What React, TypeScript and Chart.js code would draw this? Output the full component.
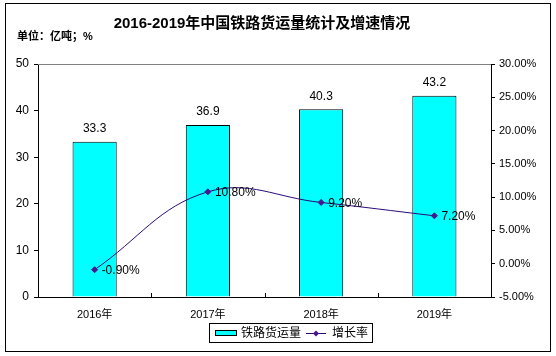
import React, { useEffect, useRef } from "react";
import { Chart, registerables } from "chart.js";

Chart.register(...registerables);

const categories = ["2016年", "2017年", "2018年", "2019年"];
const freightVolume = [33.3, 36.9, 40.3, 43.2];
const growthRate = [-0.9, 10.8, 9.2, 7.2];
const leftTicks = [0, 10, 20, 30, 40, 50];
const rightTicks = [-5, 0, 5, 10, 15, 20, 25, 30];
const titleText = "2016-2019年中国铁路货运量统计及增速情况";
const unitText = "单位：亿吨；%";
const barLabel = "铁路货运量";
const lineLabel = "增长率";

const FONT = '"Liberation Sans", "Noto Sans CJK SC", Arial, sans-serif';
const LINE_COLOR = "#2a0a78";
const POINT_COLOR = "#4b1590";

const decorPlugin = {
  id: "decor",
  beforeDraw(chart: any) {
    const ctx = chart.ctx;
    ctx.save();
    ctx.fillStyle = "#ffffff";
    ctx.fillRect(0, 0, chart.width, chart.height);
    ctx.restore();
  },
  afterDraw(chart: any) {
    const ctx = chart.ctx;
    const area = chart.chartArea;
    ctx.save();
    // outer frame
    ctx.strokeStyle = "#000";
    ctx.lineWidth = 1;
    ctx.strokeRect(5.5, 3.5, 545, 348);
    // plot top border (gray)
    ctx.strokeStyle = "#808080";
    ctx.beginPath();
    ctx.moveTo(area.left, Math.round(area.top) + 0.5);
    ctx.lineTo(area.right, Math.round(area.top) + 0.5);
    ctx.stroke();
    // x category boundary ticks (inward)
    ctx.strokeStyle = "#000";
    const n = categories.length;
    const w = (area.right - area.left) / n;
    ctx.beginPath();
    for (let i = 1; i < n; i++) {
      const x = Math.round(area.left + i * w) + 0.5;
      ctx.moveTo(x, area.bottom);
      ctx.lineTo(x, area.bottom - 4);
    }
    ctx.stroke();
    // title
    ctx.fillStyle = "#000";
    ctx.textAlign = "center";
    ctx.textBaseline = "middle";
    ctx.font = `bold 15px ${FONT}`;
    ctx.fillText(titleText, 262, 24);
    ctx.textAlign = "left";
    ctx.font = `bold 11px ${FONT}`;
    ctx.fillText(unitText, 17, 37);

    // data labels
    ctx.font = `12px ${FONT}`;
    const barMeta = chart.getDatasetMeta(0);
    barMeta.data.forEach((el: any, i: number) => {
      ctx.textAlign = "center";
      ctx.textBaseline = "bottom";
      ctx.fillText(freightVolume[i].toFixed(1), el.x, el.y - 7);
    });
    const lineMeta = chart.getDatasetMeta(1);
    lineMeta.data.forEach((el: any, i: number) => {
      ctx.textAlign = "left";
      ctx.textBaseline = "middle";
      ctx.fillText(growthRate[i].toFixed(2) + "%", el.x + 7, el.y + 1);
    });

    // legend
    ctx.strokeStyle = "#000";
    ctx.lineWidth = 1;
    ctx.strokeRect(209.5, 323.5, 163, 19);
    ctx.fillStyle = "#00ffff";
    ctx.fillRect(215, 330, 22, 6);
    ctx.strokeRect(215.5, 330.5, 21, 5);
    ctx.fillStyle = "#000";
    ctx.font = `12px ${FONT}`;
    ctx.textAlign = "left";
    ctx.textBaseline = "middle";
    ctx.fillText(barLabel, 241, 333.5);
    ctx.strokeStyle = LINE_COLOR;
    ctx.beginPath();
    ctx.moveTo(306, 333.5);
    ctx.lineTo(326, 333.5);
    ctx.stroke();
    ctx.fillStyle = POINT_COLOR;
    ctx.beginPath();
    ctx.moveTo(316, 330.5);
    ctx.lineTo(319, 333.5);
    ctx.lineTo(316, 336.5);
    ctx.lineTo(313, 333.5);
    ctx.closePath();
    ctx.fill();
    ctx.fillStyle = "#000";
    ctx.fillText(lineLabel, 332, 333.5);
    ctx.restore();
  },
};

export default function App() {
  const ref = useRef<HTMLCanvasElement | null>(null);
  useEffect(() => {
    if (!ref.current) return;
    const chart = new Chart(ref.current, {
      type: "bar",
      data: {
        labels: categories,
        datasets: [
          {
            type: "bar",
            label: barLabel,
            data: freightVolume,
            backgroundColor: "#00ffff",
            borderColor: "#000",
            borderWidth: 1,
            barPercentage: 0.39,
            categoryPercentage: 1,
            yAxisID: "y",
            order: 1,
          },
          {
            type: "line",
            label: lineLabel,
            data: growthRate,
            borderColor: LINE_COLOR,
            borderWidth: 1,
            tension: 0.4,
            pointStyle: "rectRot",
            pointRadius: 3,
            pointBackgroundColor: POINT_COLOR,
            pointBorderColor: POINT_COLOR,
            yAxisID: "y1",
            order: 0,
          } as any,
        ],
      },
      options: {
        responsive: false,
        animation: false,
        layout: { padding: { top: 64, left: 0, right: 0, bottom: 0 } },
        plugins: {
          legend: { display: false },
          title: { display: false },
          tooltip: { enabled: false },
        },
        scales: {
          x: {
            grid: { display: false },
            border: { display: true, color: "#000" },
            ticks: { color: "#000", font: { size: 11, family: FONT }, padding: 3 },
            afterFit: (s: any) => {
              s.height = 59;
            },
          },
          y: {
            position: "left",
            min: 0,
            max: 50,
            afterBuildTicks: (s: any) => {
              s.ticks = leftTicks.map((v) => ({ value: v }));
            },
            grid: { drawOnChartArea: false, tickLength: 4, color: "#000" },
            border: { display: true, color: "#000" },
            ticks: { color: "#000", font: { size: 12, family: FONT }, padding: 5 },
            afterFit: (s: any) => {
              s.width = 38;
            },
          },
          y1: {
            position: "right",
            min: -5,
            max: 30,
            afterBuildTicks: (s: any) => {
              s.ticks = rightTicks.map((v) => ({ value: v }));
            },
            grid: { drawOnChartArea: false, tickLength: 4, color: "#000" },
            border: { display: true, color: "#000" },
            ticks: {
              color: "#000",
              font: { size: 11, family: FONT },
              padding: 4,
              callback: (v: any) => Number(v).toFixed(2) + "%",
            },
            afterFit: (s: any) => {
              s.width = 65;
            },
          },
        },
      },
      plugins: [decorPlugin],
    });
    return () => chart.destroy();
  }, []);
  return (
    <div style={{ position: "fixed", left: 0, top: 0, width: 556, height: 356, background: "#fff" }}>
      <canvas ref={ref} width={556} height={356} style={{ display: "block" }} />
    </div>
  );
}
